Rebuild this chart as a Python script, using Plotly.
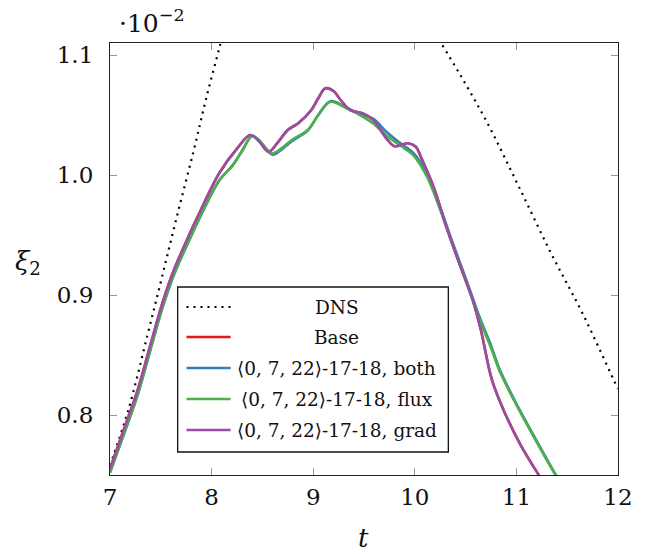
import plotly.graph_objects as go

# ---------------- data ----------------
dns_t_rise = [7.0, 7.18, 7.37, 7.515, 7.66, 7.82, 7.95, 8.08, 8.15]
dns_y_rise = [0.758, 0.804, 0.867, 0.916, 0.966, 1.019, 1.065, 1.107, 1.130]
dns_t_fall = [10.2, 10.45, 10.71, 11.02, 11.34, 11.655, 11.987, 12.0]
dns_y_fall = [1.118, 1.083, 1.044, 0.991, 0.935, 0.884, 0.824, 0.822]

flux_t = [7.0, 7.145, 7.273, 7.40, 7.515, 7.63, 7.79, 7.917, 8.078, 8.207, 8.30, 8.40, 8.48,
          8.593, 8.70, 8.786, 8.946, 9.05, 9.17, 9.33, 9.46, 9.59, 9.72, 9.85, 9.99, 10.12,
          10.25, 10.38, 10.51, 10.64, 10.75, 10.83, 10.99, 11.15, 11.375, 11.45]
flux_y = [0.752, 0.786, 0.817, 0.855, 0.889, 0.917, 0.9476, 0.9703, 0.9958, 1.008, 1.020,
          1.0325, 1.028, 1.018, 1.023, 1.029, 1.0375, 1.050, 1.061, 1.0556, 1.050, 1.043,
          1.033, 1.025, 1.016, 0.9986, 0.971, 0.940, 0.910, 0.879, 0.856, 0.8375, 0.810,
          0.785, 0.7514, 0.741]

both_t = [7.0, 7.145, 7.273, 7.40, 7.515, 7.63, 7.79, 7.917, 8.078, 8.207, 8.30, 8.40, 8.48,
          8.60, 8.70, 8.786, 8.946, 9.05, 9.17, 9.33, 9.46, 9.59, 9.72, 9.85, 9.99, 10.12,
          10.25, 10.38, 10.51, 10.64, 10.75, 10.83, 10.99, 11.15, 11.375, 11.45]
both_y = [0.752, 0.786, 0.817, 0.855, 0.889, 0.917, 0.9476, 0.9703, 0.9958, 1.008, 1.020,
          1.0325, 1.027, 1.017, 1.022, 1.028, 1.037, 1.050, 1.0615, 1.056, 1.051, 1.047,
          1.036, 1.027, 1.018, 1.001, 0.973, 0.942, 0.912, 0.881, 0.858, 0.839, 0.811,
          0.786, 0.752, 0.742]

grad_t = [7.0, 7.145, 7.273, 7.40, 7.515, 7.63, 7.79, 7.917, 8.078, 8.25, 8.38, 8.46, 8.56,
          8.65, 8.75, 8.85, 8.98, 9.05, 9.12, 9.20, 9.27, 9.365, 9.49, 9.59, 9.72, 9.80,
          9.93, 10.01, 10.06, 10.185, 10.31, 10.44, 10.57, 10.65, 10.76, 10.89, 11.05,
          11.21, 11.28]
grad_y = [0.755, 0.790, 0.821, 0.859, 0.893, 0.921, 0.952, 0.975, 1.002, 1.022, 1.0333,
          1.029, 1.0194, 1.027, 1.0375, 1.043, 1.054, 1.064, 1.0722, 1.070, 1.0625, 1.054,
          1.0514, 1.046, 1.0306, 1.024, 1.0264, 1.0236, 1.015, 0.990, 0.957, 0.926, 0.896,
          0.871, 0.829, 0.801, 0.7736, 0.7514, 0.742]

base_t = [7.0, 7.145, 7.273, 7.40, 7.515, 7.63, 7.79, 7.917, 8.078, 8.25, 8.38, 8.46, 8.56,
          8.65, 8.75, 8.85, 8.98, 9.05, 9.12, 9.20, 9.27, 9.365, 9.49, 9.59, 9.72, 9.80,
          9.93, 10.01, 10.06, 10.185, 10.31, 10.44, 10.57, 10.65, 10.76, 10.89, 11.05,
          11.21, 11.28]
base_y = [0.755, 0.790, 0.821, 0.859, 0.893, 0.921, 0.952, 0.975, 1.002, 1.022, 1.0333,
          1.029, 1.0194, 1.027, 1.0375, 1.043, 1.054, 1.064, 1.0722, 1.070, 1.0625, 1.054,
          1.0514, 1.046, 1.0306, 1.024, 1.0264, 1.0236, 1.015, 0.990, 0.957, 0.926, 0.896,
          0.871, 0.829, 0.801, 0.7736, 0.7514, 0.742]

series_names = ["DNS", "Base", "⟨0, 7, 22⟩-17-18, both",
                "⟨0, 7, 22⟩-17-18, flux", "⟨0, 7, 22⟩-17-18, grad"]
series_colors = ["#000000", "#e41a1c", "#377eb8", "#4daf4a", "#984ea3"]

x_ticks = [7, 8, 9, 10, 11, 12]
y_ticks = [0.8, 0.9, 1.0, 1.1]
y_tick_text = ["0.8", "0.9", "1.0", "1.1"]

# ---------------- layout geometry (pixels) ----------------
W, H = 645, 554
L, R, T, B = 110, 17, 43, 79
PW, PH = W - L - R, H - T - B


def px(xp):
    return (xp - L) / PW


def py(yp):
    return (H - B - yp) / PH


FONT = "DejaVu Serif"

fig = go.Figure()

dns_t = dns_t_rise + [None] + dns_t_fall
dns_y = dns_y_rise + [None] + dns_y_fall
fig.add_trace(go.Scatter(x=dns_t, y=dns_y, mode="lines", name=series_names[0],
                         line=dict(color=series_colors[0], width=2.2, dash="2px,5px",
                                   shape="spline"),
                         connectgaps=False, showlegend=False))

for t, y, name, col in [(base_t, base_y, series_names[1], series_colors[1]),
                        (both_t, both_y, series_names[2], series_colors[2]),
                        (flux_t, flux_y, series_names[3], series_colors[3]),
                        (grad_t, grad_y, series_names[4], series_colors[4])]:
    fig.add_trace(go.Scatter(x=t, y=y, mode="lines", name=name,
                             line=dict(color=col, width=2.6, shape="spline", smoothing=1.0),
                             showlegend=False))

axis_common = dict(showgrid=False, zeroline=False, showline=True, linecolor="#222",
                   linewidth=1.2, mirror="ticks", ticks="inside", ticklen=7,
                   tickcolor="#9a9a9a", tickwidth=1.2,
                   tickfont=dict(family=FONT, size=23, color="#111"))

fig.update_xaxes(range=[7, 12], tickvals=x_ticks, ticktext=[str(v) for v in x_ticks],
                 ticklabelstandoff=1, **axis_common)
fig.update_yaxes(range=[0.75, 1.11], tickvals=y_ticks, ticktext=y_tick_text,
                 ticklabelstandoff=11, **axis_common)

# custom legend (box + samples + centred text)
lx0, lx1, ly0, ly1 = 179, 455, 287, 452
entry_y = [307, 337, 368, 399, 430]
shapes = [dict(type="rect", xref="paper", yref="paper", x0=px(lx0), x1=px(lx1),
               y0=py(ly1), y1=py(ly0), line=dict(color="#111", width=1.3),
               fillcolor="white", layer="above")]
annotations = []
for i, (name, col) in enumerate(zip(series_names, series_colors)):
    if i == 0:
        shapes.append(dict(type="line", xref="paper", yref="paper", x0=px(188), x1=px(233),
                           y0=py(entry_y[i]), y1=py(entry_y[i]),
                           line=dict(color=col, width=2.2, dash="2px,5px"), layer="above"))
    else:
        shapes.append(dict(type="line", xref="paper", yref="paper", x0=px(188), x1=px(233),
                           y0=py(entry_y[i]), y1=py(entry_y[i]),
                           line=dict(color=col, width=2.4), layer="above"))
    annotations.append(dict(text=name, xref="paper", yref="paper", x=px(341),
                            y=py(entry_y[i]), xanchor="center", yanchor="middle",
                            showarrow=False, font=dict(family=FONT, size=18.5, color="#111")))

# axis titles and exponent
annotations.append(dict(text="<i>t</i>", xref="paper", yref="paper", x=px(368), y=py(538),
                        xanchor="center", yanchor="middle", showarrow=False,
                        font=dict(family=FONT, size=26, color="#111")))
annotations.append(dict(text="<i>ξ</i><sub>2</sub>", xref="paper", yref="paper", x=px(26),
                        y=py(262), xanchor="center", yanchor="middle", showarrow=False,
                        font=dict(family=FONT, size=26, color="#111")))
annotations.append(dict(text="·10<sup>−2</sup>", xref="paper", yref="paper", x=px(117),
                        y=py(22), xanchor="left", yanchor="middle", showarrow=False,
                        font=dict(family=FONT, size=25, color="#111")))

fig.update_layout(width=W, height=H, margin=dict(l=L, r=R, t=T, b=B),
                  paper_bgcolor="white", plot_bgcolor="white",
                  shapes=shapes, annotations=annotations, showlegend=False)

fig.write_html("out.html")
